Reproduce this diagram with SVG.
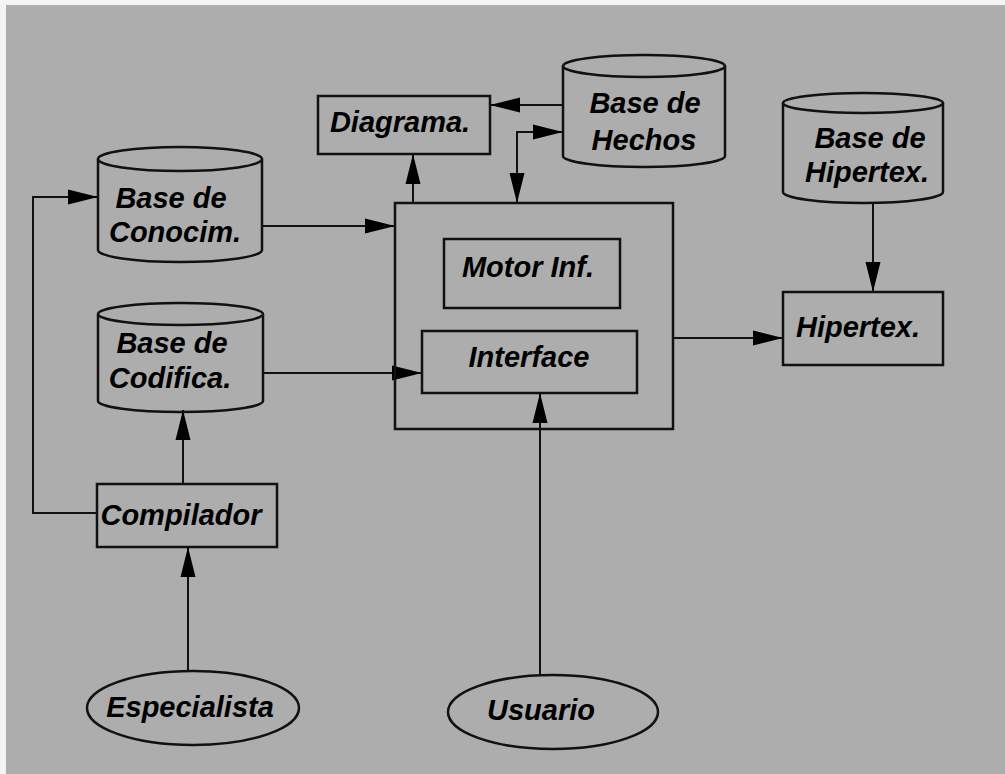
<svg xmlns="http://www.w3.org/2000/svg" width="1005" height="774" viewBox="0 0 1005 774">
<style>
.n{fill:none;stroke:#111;stroke-width:2.5}
.c{fill:none;stroke:#111;stroke-width:2}
.t{font-family:"Liberation Sans",Arial,sans-serif;font-weight:bold;font-style:italic;font-size:29px;fill:#000;text-anchor:middle}
</style>
<defs>
<marker id="ah" markerUnits="userSpaceOnUse" markerWidth="32" markerHeight="18" refX="30" refY="9" orient="auto-start-reverse">
<path d="M0,1.5 L30,9 L0,16.5 Z" fill="#000"/>
</marker>
</defs>
<rect x="0" y="0" width="1005" height="774" fill="#f4f4f4"/>
<rect x="6" y="5" width="999" height="769" fill="#adadad"/>

<g id="connectors">
<path class="c" d="M563,105 L490,105" marker-end="url(#ah)"/>
<path class="c" d="M563,132 L517,132 L517,203" marker-start="url(#ah)" marker-end="url(#ah)"/>
<path class="c" d="M413,203 L413,154" marker-end="url(#ah)"/>
<path class="c" d="M262,226 L395,226" marker-end="url(#ah)"/>
<path class="c" d="M97,513 L33,513 L33,197 L98,197" marker-end="url(#ah)"/>
<path class="c" d="M263,373 L422,373" marker-end="url(#ah)"/>
<path class="c" d="M183,484 L183,410" marker-end="url(#ah)"/>
<path class="c" d="M188,670 L188,547" marker-end="url(#ah)"/>
<path class="c" d="M540,675 L540,393" marker-end="url(#ah)"/>
<path class="c" d="M673,338 L783,338" marker-end="url(#ah)"/>
<path class="c" d="M873,203 L873,292" marker-end="url(#ah)"/>
</g>

<g id="diagrama">
<rect class="n" x="318" y="96" width="172" height="58"/>
<text class="t" x="400" y="132">Diagrama.</text>
</g>

<g id="base-hechos">
<path class="n" d="M563,66 L563,156 A81,11 0 0 0 725,156 L725,66"/>
<ellipse class="n" cx="644" cy="66" rx="81" ry="11"/>
<text class="t" x="645" y="113">Base de</text>
<text class="t" x="644" y="150">Hechos</text>
</g>

<g id="base-hipertex">
<path class="n" d="M783,103 L783,192 A80,11 0 0 0 943,192 L943,103"/>
<ellipse class="n" cx="863" cy="103" rx="80" ry="10"/>
<text class="t" x="870" y="148">Base de</text>
<text class="t" x="867" y="182">Hipertex.</text>
</g>

<g id="base-conocim">
<path class="n" d="M98,159 L98,250 A82,12 0 0 0 262,250 L262,159"/>
<ellipse class="n" cx="180" cy="159" rx="82" ry="12"/>
<text class="t" x="171" y="208">Base de</text>
<text class="t" x="175" y="242">Conocim.</text>
</g>

<g id="base-codifica">
<path class="n" d="M98,314 L98,401 A82.5,11 0 0 0 263,401 L263,314"/>
<ellipse class="n" cx="180.5" cy="314" rx="82.5" ry="11"/>
<text class="t" x="172" y="353">Base de</text>
<text class="t" x="170" y="388">Codifica.</text>
</g>

<g id="sistema">
<rect class="n" x="395" y="203" width="278" height="226"/>
</g>

<g id="motor">
<rect class="n" x="444" y="239" width="176" height="69"/>
<text class="t" x="528" y="277">Motor Inf.</text>
</g>

<g id="interface">
<rect class="n" x="422" y="331" width="215" height="62"/>
<text class="t" x="529" y="367">Interface</text>
</g>

<g id="hipertex">
<rect class="n" x="783" y="292" width="160" height="73"/>
<text class="t" x="858" y="337">Hipertex.</text>
</g>

<g id="compilador">
<rect class="n" x="97" y="484" width="180" height="63"/>
<text class="t" x="181" y="525">Compilador</text>
</g>

<g id="especialista">
<ellipse class="n" cx="193" cy="708" rx="106" ry="37"/>
<text class="t" x="190" y="717">Especialista</text>
</g>

<g id="usuario">
<ellipse class="n" cx="553" cy="712" rx="105" ry="37"/>
<text class="t" x="541" y="720">Usuario</text>
</g>
</svg>
